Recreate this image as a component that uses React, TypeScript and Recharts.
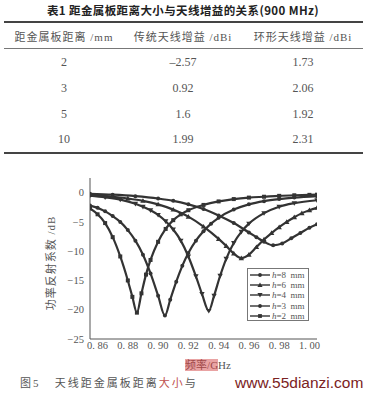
import React from 'react';
import { LineChart, Line, XAxis, YAxis } from 'recharts';

// table 1
const tableTitle = '表1  距金属板距离大小与天线增益的关系(900 MHz)';
const tableHeaders = ['距金属板距离 /mm', '传统天线增益 /dBi', '环形天线增益 /dBi'];
const distances = [2, 3, 5, 10];
const traditionalGain = [-2.57, 0.92, 1.6, 1.99];
const ringGain = [1.73, 2.06, 1.92, 2.31];

// figure 5
const freqTicks = [0.86, 0.88, 0.9, 0.92, 0.94, 0.96, 0.98, 1.0];
const dbTicks = [-25, -20, -15, -10, -5, 0];

const h8Freq = [0.855, 0.87, 0.885, 0.9, 0.91, 0.92, 0.93, 0.94, 0.95, 0.96, 0.965, 0.97, 0.976, 0.982, 0.988, 0.994, 1.0, 1.005];
const h8Db = [-0.2, -0.35, -0.6, -1.0, -1.4, -2.0, -2.8, -3.9, -5.2, -6.8, -7.6, -8.4, -9.0, -8.7, -7.8, -6.9, -6.0, -5.4];

const h6Freq = [0.855, 0.87, 0.88, 0.89, 0.9, 0.91, 0.92, 0.93, 0.94, 0.945, 0.95, 0.955, 0.96, 0.965, 0.97, 0.975, 0.98, 0.985, 0.99, 0.995, 1.0, 1.005];
const h6Db = [-0.4, -0.7, -1.0, -1.4, -2.0, -2.9, -4.1, -5.8, -7.9, -9.1, -10.4, -11.2, -10.6, -9.3, -8.0, -6.9, -5.9, -5.0, -4.2, -3.5, -3.0, -2.6];

const h4Freq = [0.855, 0.865, 0.875, 0.885, 0.89, 0.895, 0.9, 0.905, 0.91, 0.915, 0.92, 0.925, 0.929, 0.9335, 0.937, 0.941, 0.945, 0.95, 0.955, 0.96, 0.97, 0.98, 0.99, 1.005];
const h4Db = [-0.5, -0.8, -1.2, -1.9, -2.4, -3.0, -3.8, -4.9, -6.3, -8.2, -10.9, -14.3, -17.3, -20.2, -17.6, -14.2, -11.3, -8.6, -6.7, -5.3, -3.5, -2.4, -1.8, -1.3];

const h3Freq = [0.855, 0.86, 0.865, 0.87, 0.875, 0.88, 0.885, 0.89, 0.895, 0.9, 0.9045, 0.908, 0.912, 0.916, 0.92, 0.925, 0.93, 0.935, 0.94, 0.95, 0.96, 0.97, 0.98, 0.99, 1.005];
const h3Db = [-2.2, -2.6, -3.2, -4.0, -5.0, -6.4, -8.2, -10.6, -13.8, -17.6, -21.0, -18.3, -15.2, -12.5, -10.3, -8.2, -6.6, -5.3, -4.3, -2.9, -2.0, -1.45, -1.1, -0.85, -0.6];

const h2Freq = [0.855, 0.86, 0.865, 0.87, 0.875, 0.88, 0.883, 0.886, 0.889, 0.892, 0.895, 0.9, 0.905, 0.91, 0.915, 0.92, 0.93, 0.94, 0.95, 0.96, 0.97, 0.98, 0.99, 1.0, 1.005];
const h2Db = [-2.7, -3.7, -5.2, -7.6, -10.9, -15.0, -17.8, -20.5, -17.2, -14.0, -11.5, -8.4, -6.2, -4.7, -3.7, -3.0, -2.1, -1.5, -1.1, -0.85, -0.7, -0.55, -0.45, -0.38, -0.35];

const seriesNames = ['h=8', 'h=6', 'h=4', 'h=3', 'h=2'];
const seriesShapes = ['circle', 'up', 'down', 'circle', 'square'];
const seriesFreqs = [h8Freq, h6Freq, h4Freq, h3Freq, h2Freq];
const seriesDbs = [h8Db, h6Db, h4Db, h3Db, h2Db];

const series = seriesNames.map((name, i) => ({
  name,
  shape: seriesShapes[i],
  data: seriesFreqs[i].map((f, j) => ({ f, db: seriesDbs[i][j] })),
}));

const INK = '#333';
const TEXT = '#555';
const SERIF = '"Liberation Serif", "DejaVu Serif", "Noto Sans CJK SC", serif';
const CJK = '"Liberation Serif", "Noto Sans CJK SC", serif';

function Marker({ cx, cy, shape, size }: any) {
  if (cx == null || cy == null) return null;
  const s = size / 2;
  if (shape === 'square') return <rect x={cx - s} y={cy - s} width={size} height={size} fill={INK} />;
  if (shape === 'up')
    return <polygon points={`${cx},${cy - s - 0.7} ${cx - s - 0.7},${cy + s} ${cx + s + 0.7},${cy + s}`} fill={INK} />;
  if (shape === 'down')
    return <polygon points={`${cx},${cy + s + 0.7} ${cx - s - 0.7},${cy - s} ${cx + s + 0.7},${cy - s}`} fill={INK} />;
  return <circle cx={cx} cy={cy} r={s} fill={INK} />;
}

function fmtGain(v: number) {
  return v < 0 ? '–' + Math.abs(v) : String(v);
}

function Cell({ x, y, children, style }: any) {
  return (
    <div
      style={{
        position: 'absolute', left: x - 70, top: y - 8, width: 140, height: 16,
        lineHeight: '16px', textAlign: 'center', whiteSpace: 'nowrap', ...style,
      }}
    >
      {children}
    </div>
  );
}

const colX = [64, 183, 303];
const rowY = [61.7, 88, 114, 139];

export default function App() {
  return (
    <div style={{ position: 'fixed', left: 0, top: 0, width: 369, height: 402, background: '#fff', overflow: 'hidden' }}>
      {/* table */}
      <Cell x={183} y={10} style={{ width: 360, left: 3, fontFamily: '"Noto Sans CJK SC", sans-serif', fontWeight: 700, fontSize: 11.5, letterSpacing: 0.4, color: '#222' }}>
        {tableTitle}
      </Cell>
      <div style={{ position: 'absolute', left: 4, top: 21, width: 359, height: 2, background: '#444' }} />
      {tableHeaders.map((h, i) => (
        <Cell key={h} x={colX[i]} y={36.5} style={{ fontFamily: CJK, fontSize: 11, letterSpacing: 1, color: TEXT }}>
          {h}
        </Cell>
      ))}
      <div style={{ position: 'absolute', left: 4, top: 48, width: 359, height: 1, background: '#777' }} />
      {distances.map((d, r) => (
        <React.Fragment key={d}>
          <Cell x={colX[0]} y={rowY[r]} style={{ fontFamily: SERIF, fontSize: 12, color: TEXT }}>{d}</Cell>
          <Cell x={colX[1]} y={rowY[r]} style={{ fontFamily: SERIF, fontSize: 12, color: TEXT }}>{fmtGain(traditionalGain[r])}</Cell>
          <Cell x={colX[2]} y={rowY[r]} style={{ fontFamily: SERIF, fontSize: 12, color: TEXT }}>{fmtGain(ringGain[r])}</Cell>
        </React.Fragment>
      ))}
      <div style={{ position: 'absolute', left: 4, top: 151.5, width: 359, height: 2, background: '#444' }} />

      {/* chart */}
      <div style={{ position: 'absolute', left: 0, top: 170 }}>
        <LineChart width={369} height={232} margin={{ top: 8, right: 52, bottom: 43, left: 50 }}>
          <XAxis
            dataKey="f"
            type="number"
            domain={[0.855, 1.005]}
            ticks={freqTicks}
            allowDataOverflow
            height={20}
            tickSize={2}
            tickMargin={1}
            tickLine={false}
            axisLine={{ stroke: '#555' }}
            tick={{ fill: TEXT, fontSize: 10.5, fontFamily: SERIF }}
            tickFormatter={(v: number) => v.toFixed(2).replace('.', '. ')}
          />
          <XAxis xAxisId="top" orientation="top" type="number" domain={[0.855, 1.005]} height={0} tick={false} tickLine={false} axisLine={{ stroke: '#555' }} />
          <YAxis
            type="number"
            domain={[-25, 2.5]}
            ticks={dbTicks}
            allowDataOverflow
            width={40}
            tickSize={4}
            tickMargin={2}
            tickLine={false}
            axisLine={{ stroke: '#555' }}
            tick={{ fill: TEXT, fontSize: 10.5, fontFamily: SERIF }}
            tickFormatter={(v: number) => (v < 0 ? '−' + Math.abs(v) : String(v))}
          />
          <YAxis yAxisId="right" orientation="right" type="number" domain={[-25, 2.5]} width={0} tick={false} tickLine={false} axisLine={{ stroke: '#555' }} />
          {series.map((s) => (
            <Line
              key={s.name}
              data={s.data}
              dataKey="db"
              type="monotone"
              stroke={INK}
              strokeWidth={2.2}
              isAnimationActive={false}
              dot={(p: any) => <Marker key={`${s.name}-${p.index}`} cx={p.cx} cy={p.cy} shape={s.shape} size={4} />}
              activeDot={false}
            />
          ))}
        </LineChart>
      </div>

      {/* legend */}
      <div style={{ position: 'absolute', left: 247, top: 268, width: 62, height: 53, border: '1px solid #777', background: '#fff', boxSizing: 'border-box', paddingTop: 1 }}>
        {series.map((s) => (
          <div key={s.name} style={{ height: 10.2, display: 'flex', alignItems: 'center', fontFamily: SERIF, fontSize: 9, color: TEXT, whiteSpace: 'nowrap' }}>
            <svg width={24} height={8} style={{ flex: 'none' }}>
              <line x1={2} y1={4} x2={22} y2={4} stroke={INK} strokeWidth={1.4} />
              <Marker cx={12} cy={4} shape={s.shape} size={3.8} />
            </svg>
            <span><i>h</i>{s.name.slice(1)}&nbsp;&nbsp;mm</span>
          </div>
        ))}
      </div>

      {/* axis titles */}
      <div style={{ position: 'absolute', left: 51 - 50, top: 263 - 8, width: 100, height: 16, lineHeight: '16px', textAlign: 'center', transform: 'rotate(-90deg)', fontFamily: CJK, fontSize: 11, letterSpacing: 1, color: TEXT, whiteSpace: 'nowrap' }}>
        功率反射系数 /dB
      </div>
      <div style={{ position: 'absolute', left: 208 - 50, top: 365 - 8, width: 100, height: 16, lineHeight: '16px', textAlign: 'center', fontFamily: CJK, fontSize: 11, color: TEXT, whiteSpace: 'nowrap' }}>
        <span style={{ background: '#e9a3a3', color: '#a04848' }}>频率/G</span>Hz
      </div>

      {/* caption */}
      <div style={{ position: 'absolute', left: 20, top: 375, height: 16, lineHeight: '16px', fontFamily: CJK, fontSize: 11, letterSpacing: 2, color: TEXT, whiteSpace: 'nowrap' }}>
        图5&nbsp;&nbsp;&nbsp;天线距金属板距离<span style={{ color: '#c0504d' }}>大小</span>与
      </div>
      <div style={{ position: 'absolute', left: 235, top: 374, height: 18, lineHeight: '18px', fontFamily: '"Liberation Sans", Arial, sans-serif', fontSize: 15.5, color: '#7b2222', whiteSpace: 'nowrap' }}>
        www.55dianzi.com
      </div>
    </div>
  );
}
